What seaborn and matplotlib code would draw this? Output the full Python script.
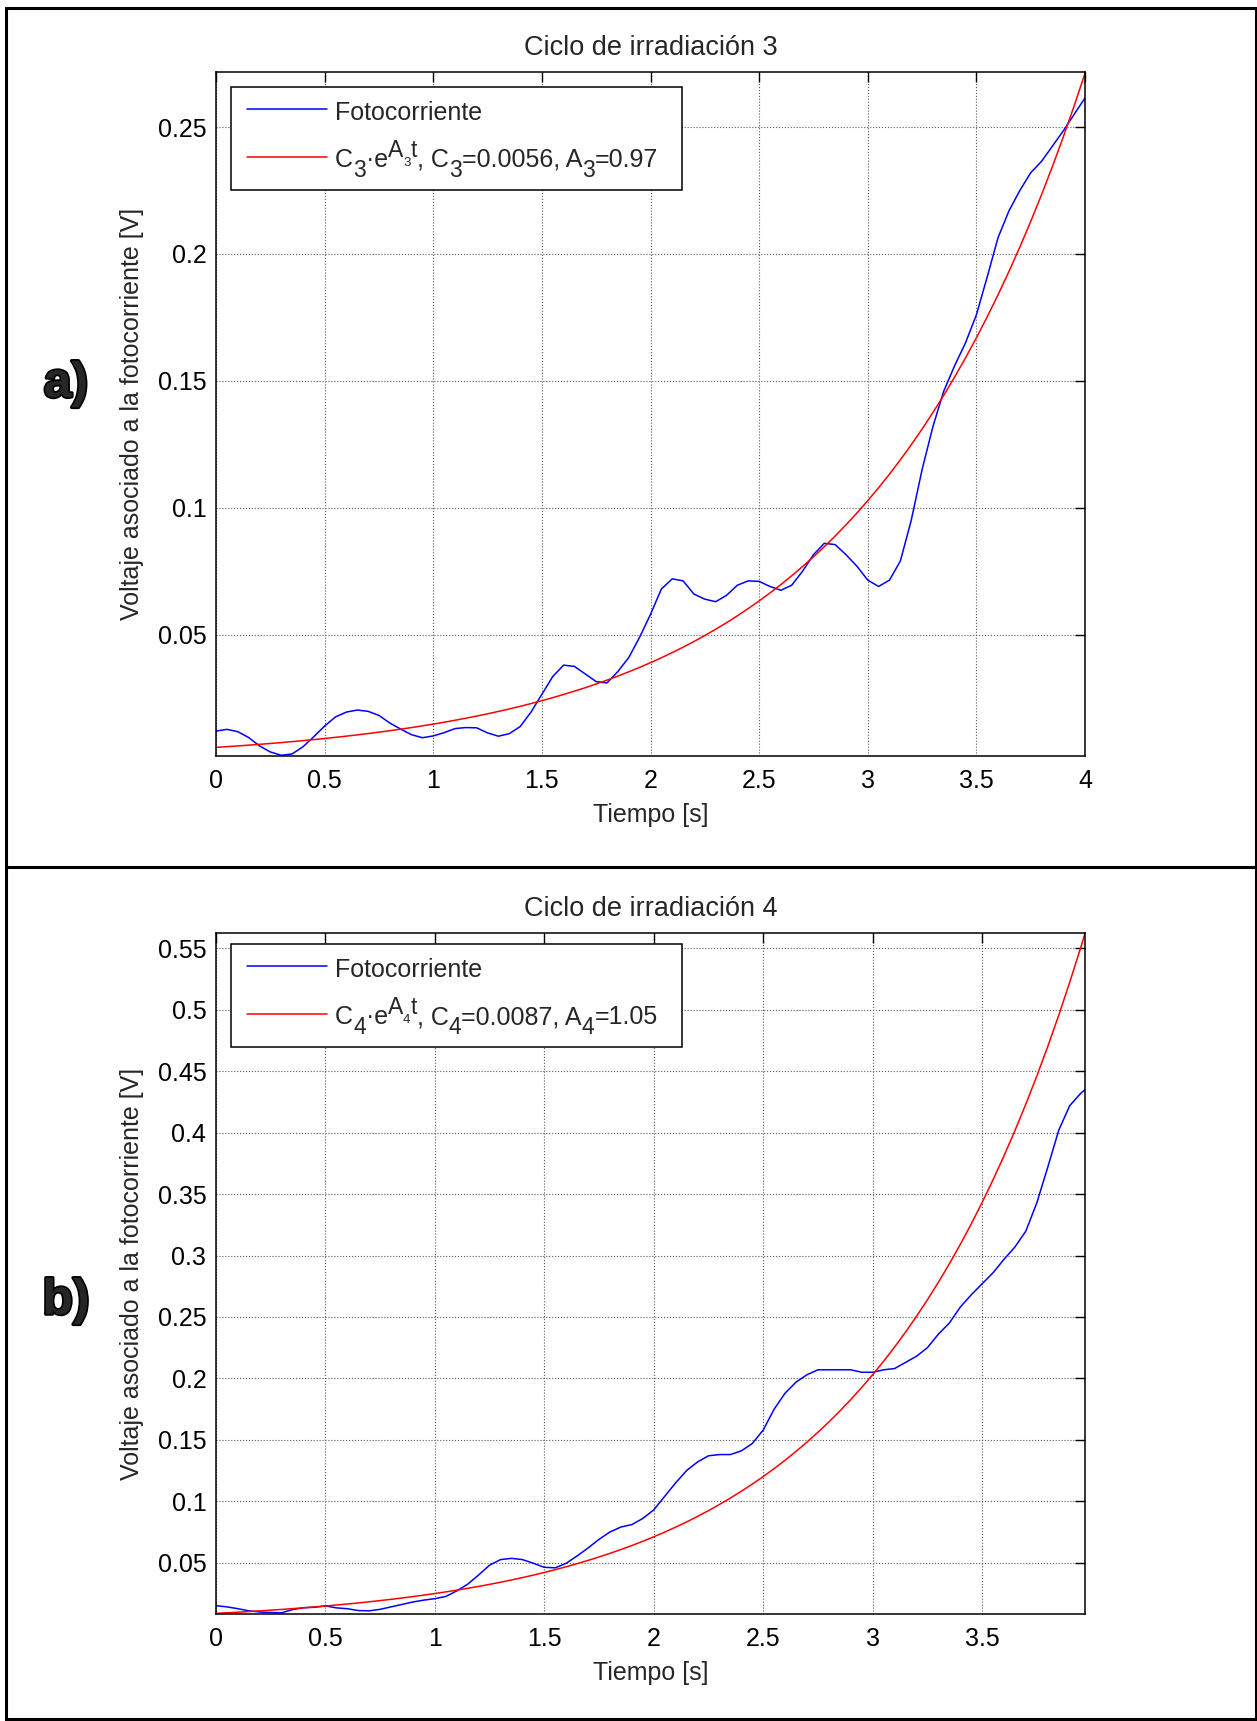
import numpy as np
import pandas as pd
import seaborn as sns
import matplotlib
matplotlib.use("Agg")
import matplotlib.pyplot as plt
from matplotlib.patches import Rectangle
from matplotlib.lines import Line2D
import matplotlib.patheffects as pe

# ---------------- data ----------------
# Cycle 3: measured photocurrent voltage (V) vs time (s)
t_cycle3 = [0.00, 0.05, 0.10, 0.15, 0.20, 0.25, 0.30, 0.35, 0.40, 0.45,
            0.50, 0.55, 0.60, 0.65, 0.70, 0.75, 0.80, 0.85, 0.90, 0.95,
            1.00, 1.05, 1.10, 1.15, 1.20, 1.25, 1.30, 1.35, 1.40, 1.45,
            1.50, 1.55, 1.60, 1.65, 1.70, 1.75, 1.80, 1.85, 1.90, 1.95,
            2.00, 2.05, 2.10, 2.15, 2.20, 2.25, 2.30, 2.35, 2.40, 2.45,
            2.50, 2.55, 2.60, 2.65, 2.70, 2.75, 2.80, 2.85, 2.90, 2.95,
            3.00, 3.05, 3.10, 3.15, 3.20, 3.25, 3.30, 3.35, 3.40, 3.45,
            3.50, 3.55, 3.60, 3.65, 3.70, 3.75, 3.80, 3.85, 3.90, 3.95,
            4.00]
v_cycle3 = [0.0120, 0.0127, 0.0118, 0.0095, 0.0062, 0.0038, 0.0025, 0.0030, 0.0058, 0.0098,
            0.0140, 0.0176, 0.0195, 0.0203, 0.0198, 0.0182, 0.0152, 0.0128, 0.0106, 0.0094,
            0.0101, 0.0114, 0.0130, 0.0134, 0.0133, 0.0113, 0.0100, 0.0110, 0.0138, 0.0195,
            0.0265, 0.0335, 0.0380, 0.0375, 0.0345, 0.0315, 0.0310, 0.0355, 0.0410, 0.0490,
            0.0580, 0.0680, 0.0720, 0.0712, 0.0660, 0.0640, 0.0630, 0.0655, 0.0695, 0.0712,
            0.0710, 0.0690, 0.0675, 0.0695, 0.0750, 0.0815, 0.0860, 0.0855, 0.0815, 0.0770,
            0.0715, 0.0690, 0.0715, 0.0790, 0.0950, 0.1150, 0.1320, 0.1460, 0.1560, 0.1650,
            0.1760, 0.1910, 0.2065, 0.2170, 0.2250, 0.2320, 0.2365, 0.2425, 0.2485, 0.2550,
            0.2615]

# Cycle 4: measured photocurrent voltage (V) vs time (s)
t_cycle4 = [0.00, 0.05, 0.10, 0.15, 0.20, 0.25, 0.30, 0.35, 0.40, 0.45,
            0.50, 0.55, 0.60, 0.65, 0.70, 0.75, 0.80, 0.85, 0.90, 0.95,
            1.00, 1.05, 1.10, 1.15, 1.20, 1.25, 1.30, 1.35, 1.40, 1.45,
            1.50, 1.55, 1.60, 1.65, 1.70, 1.75, 1.80, 1.85, 1.90, 1.95,
            2.00, 2.05, 2.10, 2.15, 2.20, 2.25, 2.30, 2.35, 2.40, 2.45,
            2.50, 2.55, 2.60, 2.65, 2.70, 2.75, 2.80, 2.85, 2.90, 2.95,
            3.00, 3.05, 3.10, 3.15, 3.20, 3.25, 3.30, 3.35, 3.40, 3.45,
            3.50, 3.55, 3.60, 3.65, 3.70, 3.75, 3.80, 3.85, 3.90, 3.95,
            3.97]
v_cycle4 = [0.0150, 0.0140, 0.0125, 0.0108, 0.0098, 0.0094, 0.0092, 0.0118, 0.0133, 0.0137,
            0.0148, 0.0132, 0.0125, 0.0110, 0.0108, 0.0120, 0.0140, 0.0160, 0.0180, 0.0195,
            0.0207, 0.0225, 0.0270, 0.0325, 0.0400, 0.0480, 0.0525, 0.0535, 0.0525, 0.0495,
            0.0462, 0.0458, 0.0495, 0.0555, 0.0620, 0.0690, 0.0750, 0.0790, 0.0810, 0.0860,
            0.0930, 0.1040, 0.1150, 0.1250, 0.1320, 0.1370, 0.1380, 0.1380, 0.1410, 0.1470,
            0.1580, 0.1750, 0.1880, 0.1970, 0.2030, 0.2070, 0.2070, 0.2070, 0.2070, 0.2050,
            0.2050, 0.2070, 0.2080, 0.2130, 0.2180, 0.2250, 0.2360, 0.2450, 0.2580, 0.2680,
            0.2770, 0.2860, 0.2970, 0.3070, 0.3200, 0.3430, 0.3720, 0.4020, 0.4220, 0.4320,
            0.4350]

# exponential fit parameters  V(t) = C * exp(A * t)
C3, A3 = 0.0056, 0.97
C4, A4 = 0.0087, 1.05

# axis ticks
xticks_a = [0, 0.5, 1, 1.5, 2, 2.5, 3, 3.5, 4]
xticklabels_a = ["0", "0.5", "1", "1.5", "2", "2.5", "3", "3.5", "4"]
yticks_a = [0.05, 0.10, 0.15, 0.20, 0.25]
yticklabels_a = ["0.05", "0.1", "0.15", "0.2", "0.25"]
xticks_b = [0, 0.5, 1, 1.5, 2, 2.5, 3, 3.5]
xticklabels_b = ["0", "0.5", "1", "1.5", "2", "2.5", "3", "3.5"]
yticks_b = [0.05, 0.10, 0.15, 0.20, 0.25, 0.30, 0.35, 0.40, 0.45, 0.50, 0.55]
yticklabels_b = ["0.05", "0.1", "0.15", "0.2", "0.25", "0.3", "0.35", "0.4",
                 "0.45", "0.5", "0.55"]

# ---------------- style ----------------
sns.set_style("white")
plt.rcParams['font.family'] = ['Liberation Sans', 'DejaVu Sans']

FS = 18
W, H = 1257, 1721
fig = plt.figure(figsize=(W / 100, H / 100), dpi=100)
fig.patch.set_facecolor("white")
renderer = fig.canvas.get_renderer()


def fx(px):
    return px / W


def fy(py):
    return 1 - py / H


def axes_rect(left, top, right, bottom):
    return [left / W, 1 - bottom / H, (right - left) / W, (bottom - top) / H]


def fit_chunks(idx, C, A):
    # (text, font size, baseline shift in px) for the TeX-like fit label
    sub, sup = -10, 10
    return [("C", FS, 0), (str(idx), 16.5, sub), ("·e", FS, 0),
            ("A", 16.5, sup), (str(idx), 9.5, 1), ("t", 16.5, sup),
            (", C", FS, 0), (str(idx), 16.5, sub), ("=%.4f, A" % C, FS, 0),
            (str(idx), 16.5, sub), ("=%.2f" % A, FS, 0)]


def draw_legend(left, top, idx, C, A):
    # boxed key in the upper-left corner of a panel (pixel layout)
    width, height = 451, 103
    fig.add_artist(Rectangle((fx(left), fy(top + height)), width / W, height / H,
                             transform=fig.transFigure, facecolor="white",
                             edgecolor="black", lw=1.1, zorder=5))
    x_line = (left + 16, left + 96)
    x_text = left + 104
    rows = [((0, 0, 1), 21.5, 33.5, [("Fotocorriente", FS, 0)]),
            ((1, 0, 0), 70.0, 80.0, fit_chunks(idx, C, A))]
    for color, y_line, y_base, chunks in rows:
        fig.add_artist(Line2D([fx(x_line[0]), fx(x_line[1])],
                              [fy(top + y_line), fy(top + y_line)],
                              transform=fig.transFigure, color=color, lw=1.1, zorder=6))
        x = x_text
        for s, size, dy in chunks:
            tx = fig.text(fx(x), fy(top + y_base - dy), s, fontsize=size,
                          ha="left", va="baseline", zorder=7)
            x += tx.get_window_extent(renderer).width


def draw_panel(rect, t, v, C, A, idx, xlim, ylim, xt, xtl, yt, ytl):
    ax = fig.add_axes(rect)
    df = pd.DataFrame({"t": t, "v": v})
    t_fit = np.asarray(t)
    fit = pd.DataFrame({"t": t_fit, "v": C * np.exp(A * t_fit)})
    sns.lineplot(data=df, x="t", y="v", ax=ax, color=(0, 0, 1), lw=1.1,
                 estimator=None, sort=False, legend=False)
    sns.lineplot(data=fit, x="t", y="v", ax=ax, color=(1, 0, 0), lw=1.1,
                 estimator=None, sort=False, legend=False)
    ax.set_xlim(*xlim)
    ax.set_ylim(*ylim)
    ax.set_xticks(xt)
    ax.set_xticklabels(xtl)
    ax.set_yticks(yt)
    ax.set_yticklabels(ytl)
    ax.tick_params(direction="in", length=7, width=1.0, top=True, right=True,
                   labelsize=FS, colors="black")
    ax.tick_params(axis="x", pad=9.5)
    ax.tick_params(axis="y", pad=7)
    ax.grid(True, linestyle=":", color="0.35", lw=0.8)
    for s in ax.spines.values():
        s.set_color("black")
        s.set_linewidth(1.1)
    ax.set_xlabel("Tiempo [s]", fontsize=FS, labelpad=7)
    ax.set_ylabel("Voltaje asociado a la fotocorriente [V]", fontsize=FS, labelpad=10)
    ax.set_title("Ciclo de irradiación %d" % idx, fontsize=19.5, pad=12)
    return ax


draw_panel(axes_rect(216, 72, 1085, 756), t_cycle3, v_cycle3, C3, A3, 3,
           (0, 4), (0.0022, 0.2717), xticks_a, xticklabels_a, yticks_a, yticklabels_a)
draw_panel(axes_rect(216, 933, 1085, 1614), t_cycle4, v_cycle4, C4, A4, 4,
           (0, 3.97), (0.0082, 0.5626), xticks_b, xticklabels_b, yticks_b, yticklabels_b)

draw_legend(231, 87, 3, C3, A3)
draw_legend(231, 944, 4, C4, A4)

# outer frame with divider between the two panels
fig.add_artist(Rectangle((fx(5.5), fy(1718.5)), (1255.5 - 5.5) / W, (1718.5 - 7.5) / H,
                         transform=fig.transFigure, fill=False, edgecolor="black", lw=2.2))
fig.add_artist(Line2D([fx(5.5), fx(1255.5)], [fy(867), fy(867)],
                      transform=fig.transFigure, color="black", lw=2.2))

# panel letters
for txt, y in (("a)", 384), ("b)", 1301)):
    fig.text(fx(66), fy(y), txt, fontsize=36, fontweight="bold",
             ha="center", va="center",
             path_effects=[pe.withStroke(linewidth=2.5, foreground="black")])

fig.savefig("out.png", dpi=100, facecolor="white")
